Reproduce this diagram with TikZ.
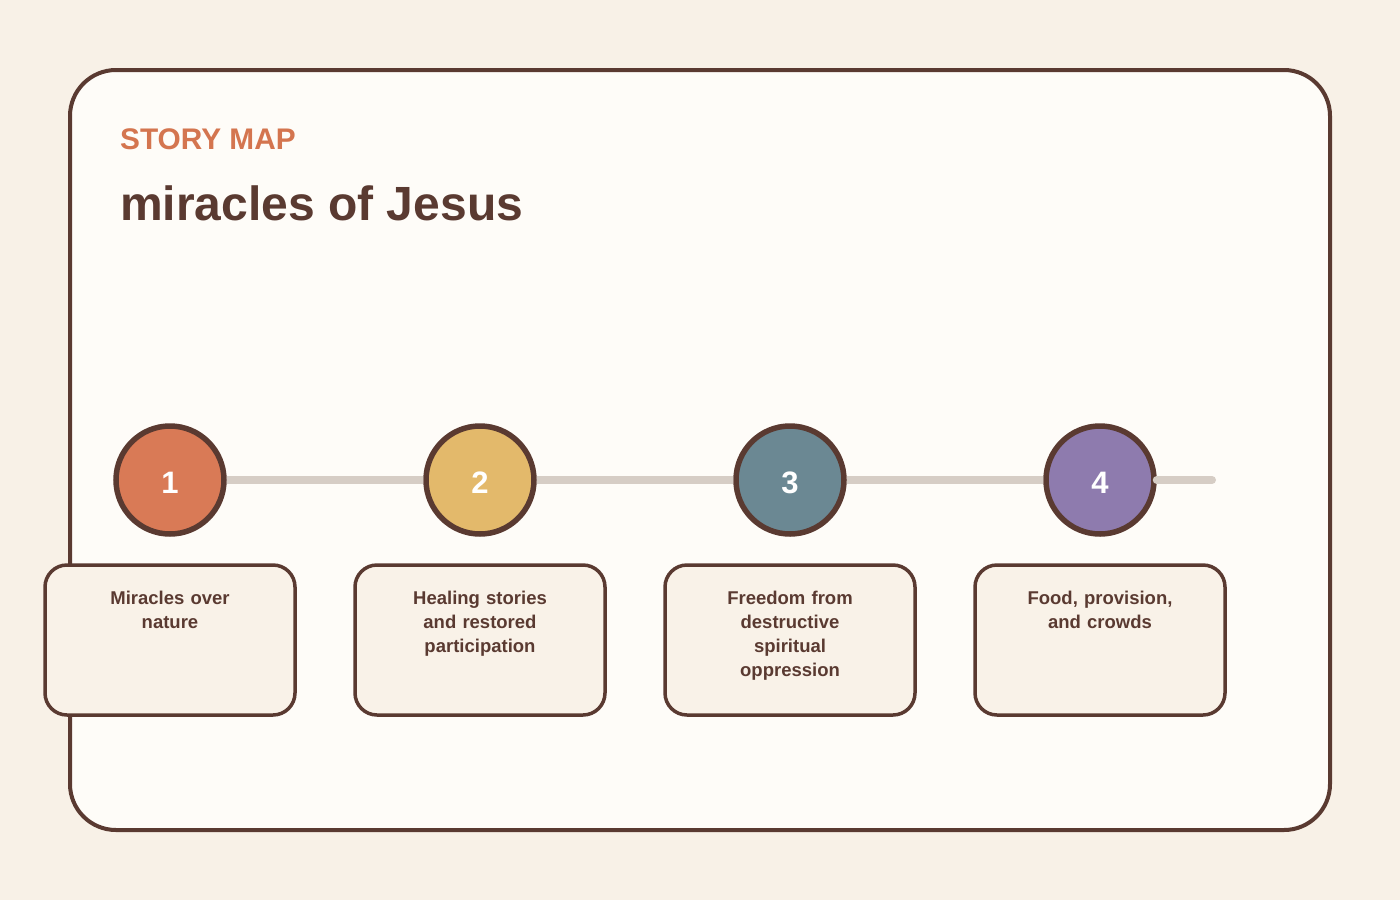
\documentclass[tikz,border=0pt]{standalone}
\usepackage{fontspec}
\setmainfont{Liberation Sans}
\definecolor{bgc}{HTML}{F8F1E7}
\definecolor{cardc}{HTML}{FEFCF8}
\definecolor{ink}{HTML}{5A3A31}
\definecolor{accent}{HTML}{D4754F}
\definecolor{linec}{HTML}{D6CDC5}
\definecolor{boxc}{HTML}{F9F2E8}
\definecolor{cA}{HTML}{D97A56}
\definecolor{cB}{HTML}{E3B96B}
\definecolor{cC}{HTML}{6B8893}
\definecolor{cD}{HTML}{8E7BAE}
\tikzset{
  stepdot/.style={circle, draw=ink, line width=5.5pt, minimum size=108pt, inner sep=0pt,
    text=white, font=\fontsize{31}{36}\selectfont\bfseries},
  steplabel/.style={text=white, inner sep=0pt, font=\fontsize{31}{36}\selectfont\bfseries},
  labelbox/.style={draw=ink, line width=3.5pt, fill=boxc, rounded corners=22pt,
    minimum width=250pt, minimum height=150pt, inner sep=0pt},
  labeltext/.style={anchor=north, inner sep=0pt, text width=215pt, align=center,
    text=ink, font=\fontsize{18.5}{24}\selectfont\bfseries},
}
\begin{document}
\begin{tikzpicture}[x=1pt,y=-1pt]
\useasboundingbox (0,0) rectangle (1400,900);
\fill[bgc] (0,0) rectangle (1400,900);
\draw[ink, line width=4pt, fill=cardc, rounded corners=46pt] (70,70) rectangle (1330,830);
\node[anchor=base west, inner sep=0pt, text=accent, font=\fontsize{29.8}{34}\selectfont\bfseries] (kicker) at (120,149) {STORY MAP};
\node[anchor=base west, inner sep=0pt, text=ink, font=\fontsize{48}{56}\selectfont\bfseries] (title) at (120,220) {miracles of Jesus};
\coordinate (lineend) at (1212,480);
\node[stepdot, fill=cA] (s1) at (170,480) {};
\node[stepdot, fill=cB] (s2) at (480,480) {};
\node[stepdot, fill=cC] (s3) at (790,480) {};
\node[stepdot, fill=cD] (s4) at (1100,480) {};
\node[steplabel] (n1) at (170,483) {1};
\node[steplabel] (n2) at (480,483) {2};
\node[steplabel] (n3) at (790,483) {3};
\node[steplabel] (n4) at (1100,483) {4};
\draw[linec, line width=8pt] (s1.east) -- (s2.west);
\draw[linec, line width=8pt] (s2.east) -- (s3.west);
\draw[linec, line width=8pt] (s3.east) -- (s4.west);
\draw[linec, line width=8pt, line cap=round] (s4.east) -- (lineend);
\node[labelbox] (b1) at (170,640) {};
\node[labelbox] (b2) at (480,640) {};
\node[labelbox] (b3) at (790,640) {};
\node[labelbox] (b4) at (1100,640) {};
\node[labeltext] (t1) at (170,591) {Miracles over\\nature};
\node[labeltext] (t2) at (480,591) {Healing stories\\and restored\\participation};
\node[labeltext] (t3) at (790,591) {Freedom from\\destructive\\spiritual\\oppression};
\node[labeltext] (t4) at (1100,591) {Food, provision,\\and crowds};
\end{tikzpicture}
\end{document}
